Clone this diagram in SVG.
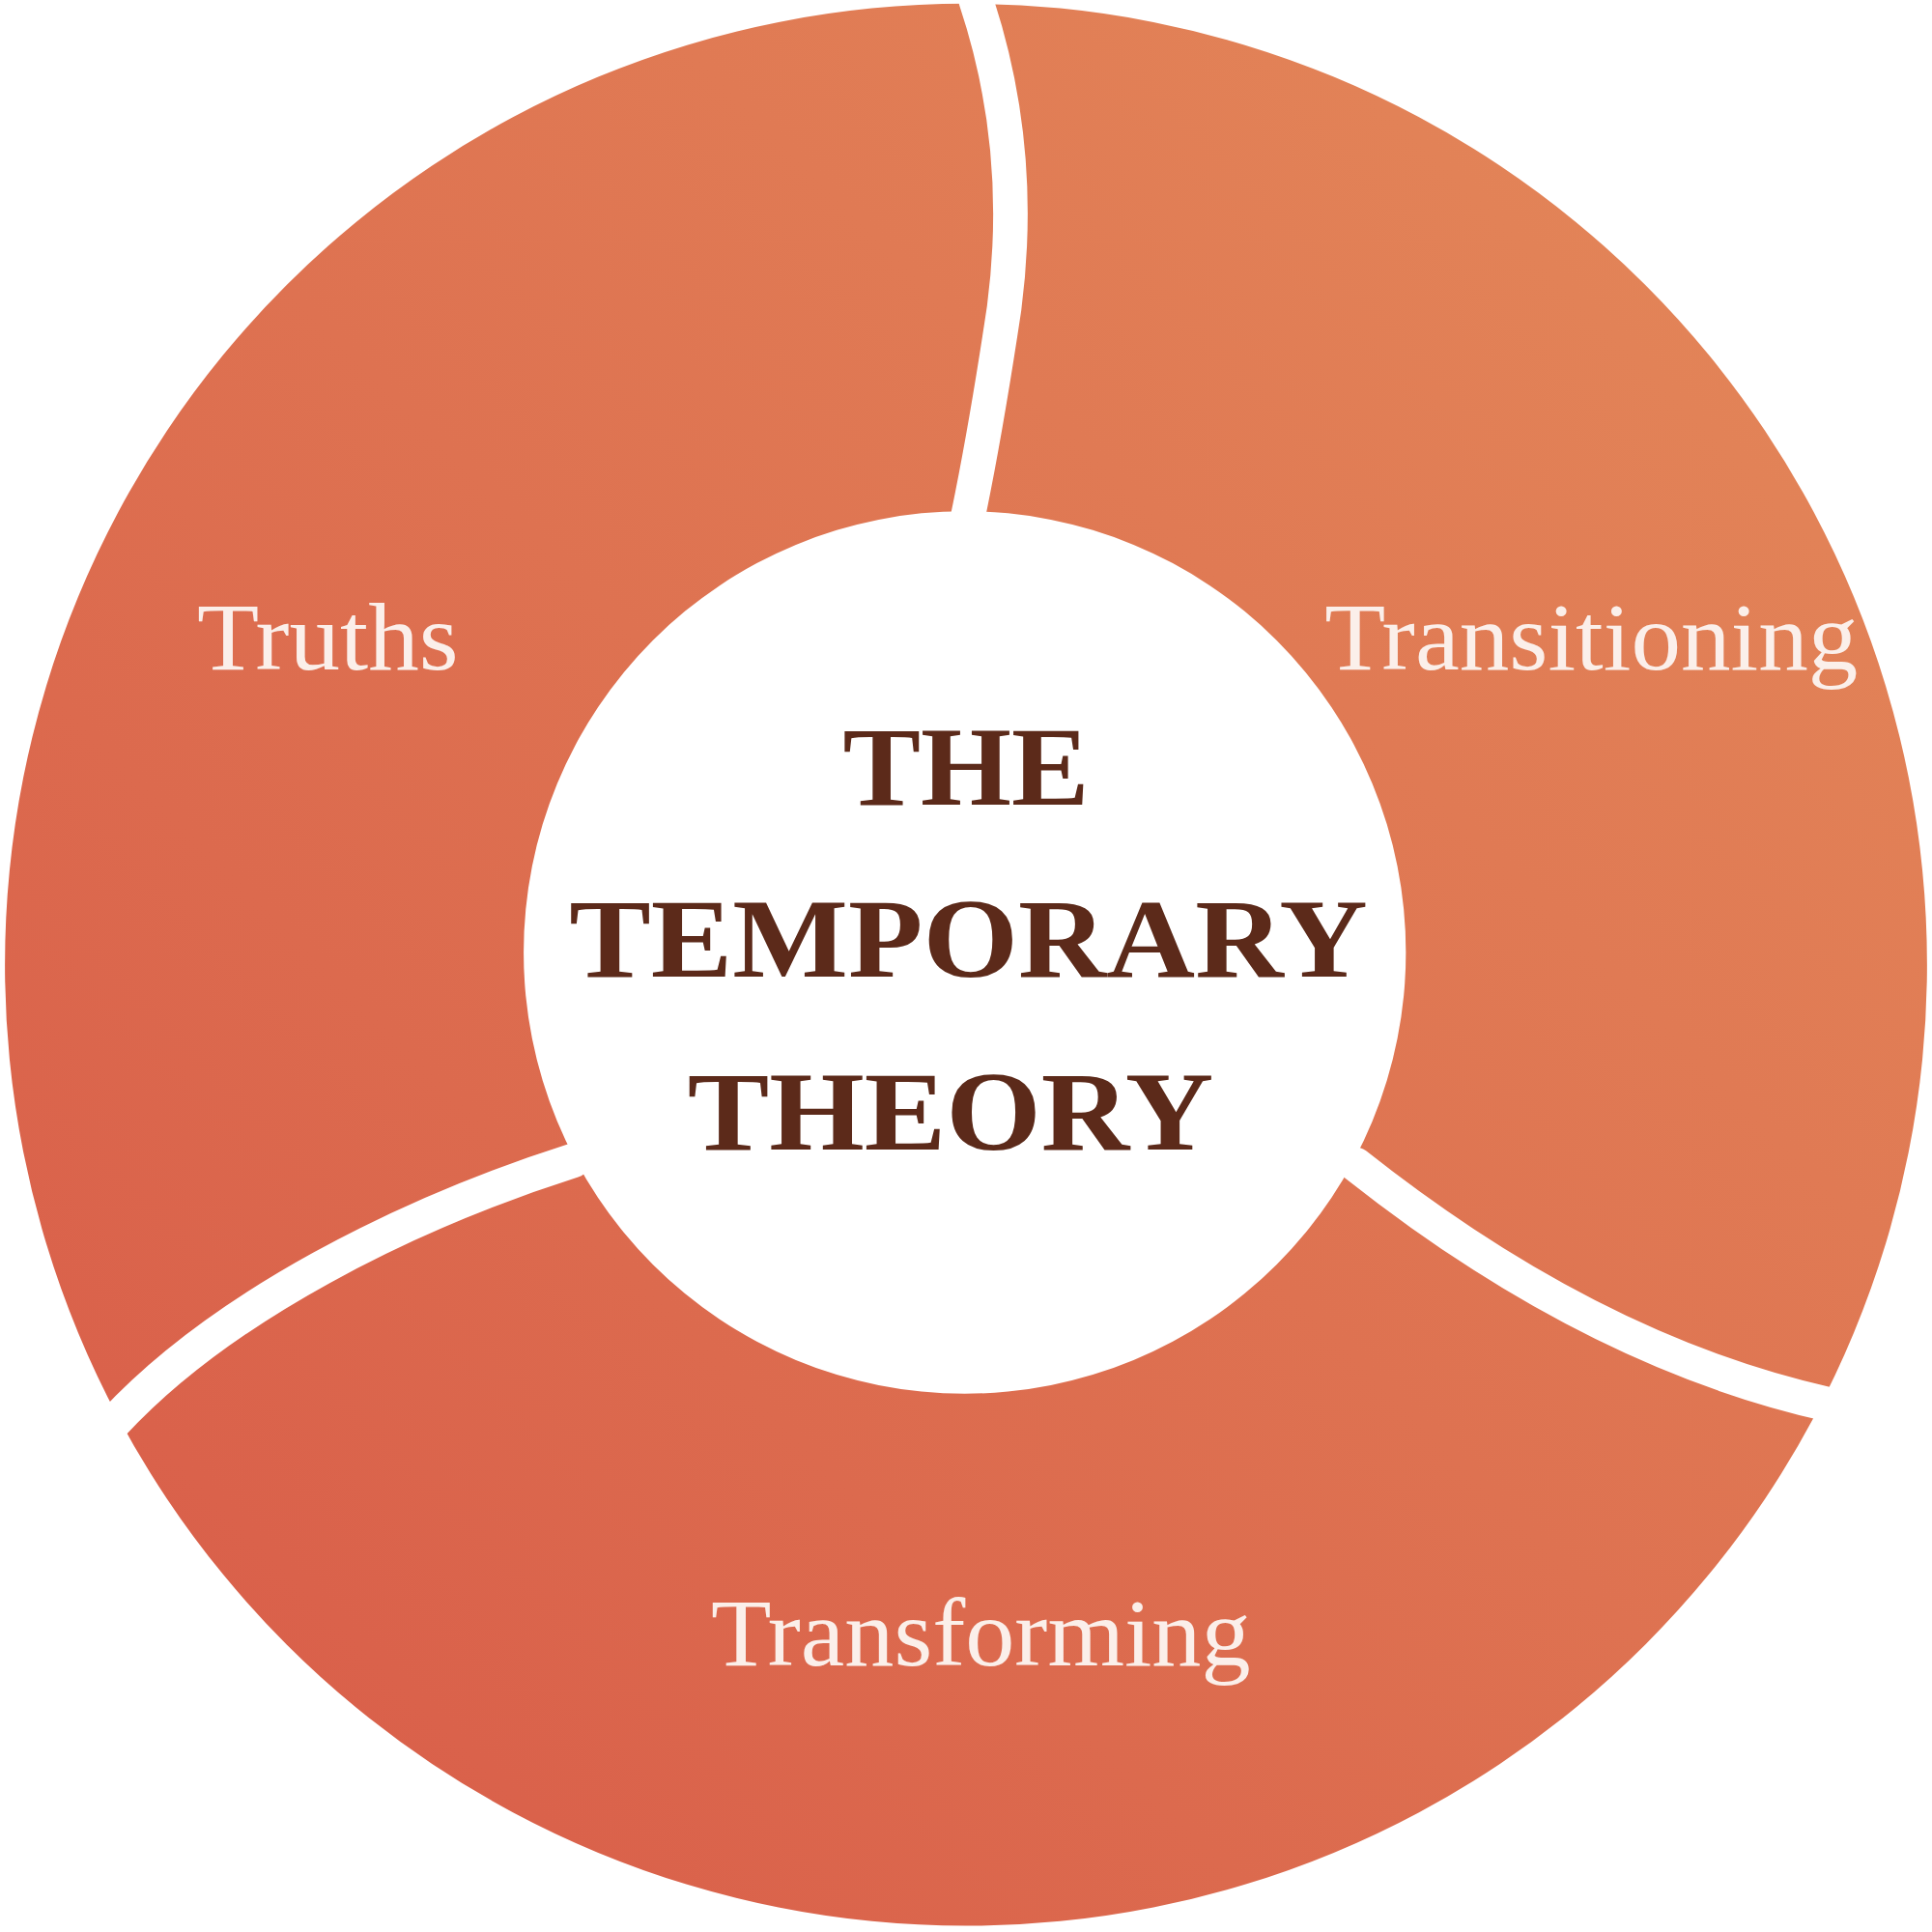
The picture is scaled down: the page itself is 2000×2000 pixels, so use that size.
<svg xmlns="http://www.w3.org/2000/svg" width="2000" height="2000" viewBox="0 0 2000 2000">
<defs>
<linearGradient id="g" x1="0" y1="1" x2="1" y2="0">
<stop offset="0" stop-color="#D85A48"/>
<stop offset="1" stop-color="#E48A5A"/>
</linearGradient>
<style>
.seg{font-family:"Liberation Serif",serif;font-size:78px;fill:#FBEFEA}
.ctr{font-family:"Liberation Serif",serif;font-size:92px;font-weight:bold;fill:#5C2A1A}
.gap{fill:none;stroke:#FFFFFF;stroke-width:28;stroke-linecap:round}
</style>
</defs>
<rect width="2000" height="2000" fill="#FFFFFF"/>
<g transform="scale(1.2755)">
<g id="ring">
<path fill="url(#g)" fill-rule="evenodd" d="M4 783 A780 780 0 1 0 1564 783 A780 780 0 1 0 4 783 Z M425 773 A358 358 0 1 0 1141 773 A358 358 0 1 0 425 773 Z"/>
</g>
<g id="connectors">
<path class="gap" d="M792 0 Q832 120 815 250 Q800 350 785 422"/>
<path class="gap" d="M465 942 C330 985 180 1060 92 1155"/>
<path class="gap" d="M1100 945 C1220 1040 1350 1110 1485 1140"/>
</g>
<g id="truths"><text class="seg" x="160" y="543" textLength="212" lengthAdjust="spacingAndGlyphs">Truths</text></g>
<g id="transitioning"><text class="seg" x="1075" y="543" textLength="433" lengthAdjust="spacingAndGlyphs">Transitioning</text></g>
<g id="transforming"><text class="seg" x="577" y="1352" textLength="438" lengthAdjust="spacingAndGlyphs">Transforming</text></g>
<g id="center">
<text class="ctr" x="684" y="653" textLength="200" lengthAdjust="spacingAndGlyphs">THE</text>
<text class="ctr" x="462" y="793" textLength="648" lengthAdjust="spacingAndGlyphs">TEMPORARY</text>
<text class="ctr" x="558" y="933" textLength="427" lengthAdjust="spacingAndGlyphs">THEORY</text>
</g>
</g>
</svg>
